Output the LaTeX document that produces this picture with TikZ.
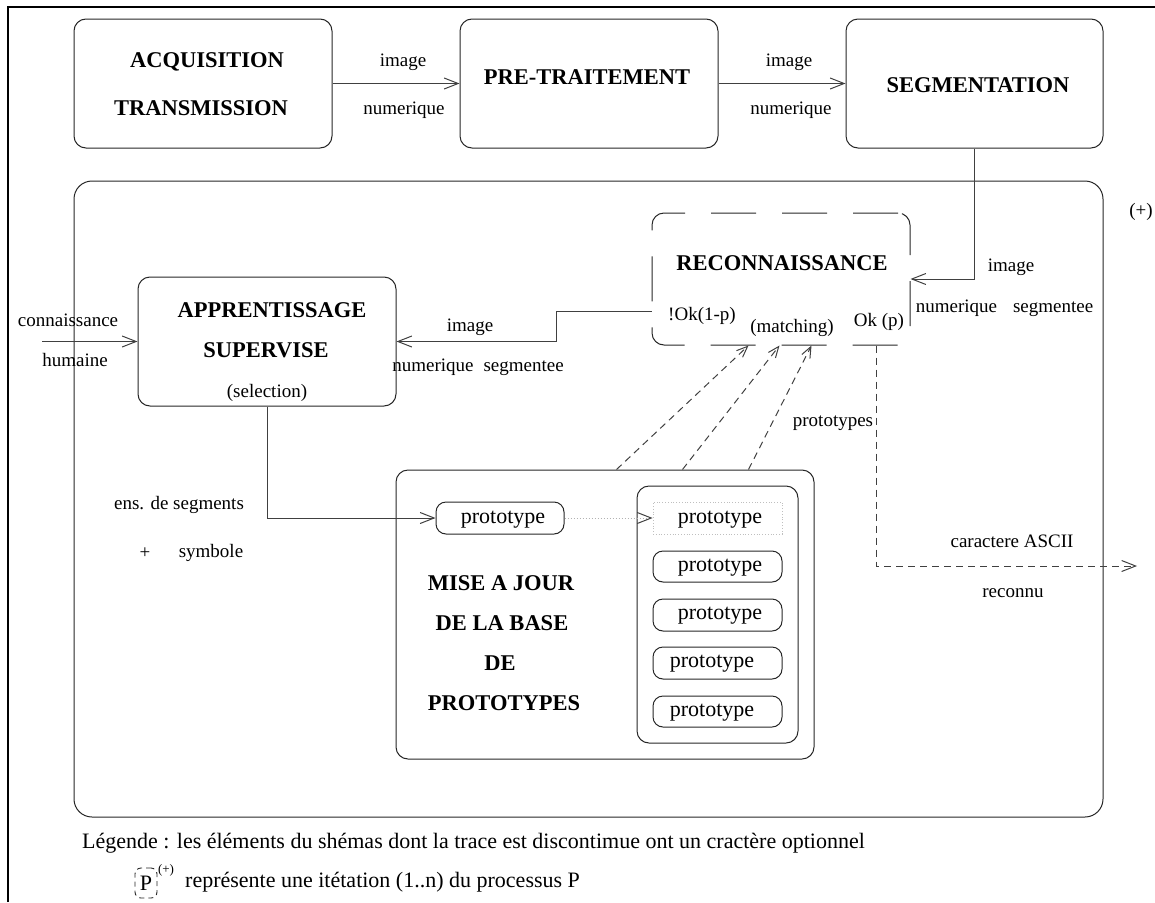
\documentclass[tikz,border=0pt]{standalone}
\usepackage{fontspec}
\setmainfont{Liberation Serif}
\usetikzlibrary{arrows.meta,calc}
\begin{document}
\begin{tikzpicture}[x=1pt,y=-1pt,
  box/.style={draw=black!85, line width=1pt, rounded corners=12pt, inner sep=0pt},
  lab/.style={inner sep=0pt, font=\fontsize{19}{23}\selectfont},
  ttl/.style={inner sep=0pt, font=\fontsize{22.5}{27}\selectfont\bfseries},
  protxt/.style={inner sep=0pt, font=\fontsize{22}{26}\selectfont},
  conn/.style={draw=black!75, line width=1pt},
  tip/.style={-{Straight Barb[length=14pt,width=11pt]}},
  opt/.style={dash pattern=on 7pt off 5pt},
  longdash/.style={dash pattern=on 45pt off 26pt}]
\useasboundingbox (0,0) rectangle (1155,902);

% page frame (top and left edges)
\draw[line width=2.5pt] (8,902) -- (8,7) -- (1155,7);

% acquisition chain
\node[box, minimum width=258pt, minimum height=129pt] (acq) at (203,83.5) {};
\node[box, minimum width=258pt, minimum height=129pt] (pre) at (589,83.5) {};
\node[box, minimum width=257pt, minimum height=129pt] (seg) at (974.5,83.5) {};
\node[ttl] (tacq1) at (207,62) {ACQUISITION};
\node[ttl] (tacq2) at (201,108) {TRANSMISSION};
\node[ttl] (tpre) at (587,77) {PRE-TRAITEMENT};
\node[ttl] (tseg) at (978,85) {SEGMENTATION};

\draw[conn, tip] (acq.east) -- (pre.west);
\draw[conn, tip] (pre.east) -- (seg.west);
\node[lab] (l1a) at (403,62) {image};
\node[lab] (l1b) at (404,110) {numerique};
\node[lab] (l2a) at (789,62) {image};
\node[lab] (l2b) at (791,110) {numerique};

% iterated recognition loop
\node[box, rounded corners=18pt, minimum width=1029pt, minimum height=636pt] (loop) at (588.5,499) {};
\node[lab] (plus) at (1141,212) {(+)};

% recognition (optional)
\node[box, longdash, minimum width=258pt, minimum height=132pt] (recon) at (781,279) {};
\node[ttl] (trec) at (782,263) {RECONNAISSANCE};
\node[lab] (nok) at (702,316) {!Ok(1-p)};
\node[lab] (match) at (792,328) {(matching)};
\node[lab] (okp) at (879,322) {Ok (p)};

\draw[conn, tip] (seg.south) |- (recon.east);
\node[lab] (l3a) at (1011,267) {image};
\node[lab] (l3b) at (1004.5,308) {numerique\hspace{16pt}segmentee};

% supervised learning
\node[box, minimum width=258pt, minimum height=129pt] (app) at (267,341.5) {};
\node[ttl] (tapp1) at (272,310) {APPRENTISSAGE};
\node[ttl] (tapp2) at (266,350) {SUPERVISE};
\node[lab] (tsel) at (267,393) {(selection)};

\coordinate (human) at (42,341.5);
\draw[conn, tip] (human) -- (app.west);
\node[lab] (l4a) at (68,320) {connaissance};
\node[lab] (l4b) at (75,360) {humaine};

\draw[conn, tip] ($(recon.west)+(0,32)$) -- ++(-95,0) |- (app.east);
\node[lab] (l5a) at (470,327) {image};
\node[lab] (l5b) at (478,367) {numerique\hspace{10pt}segmentee};

% prototype base update
\node[box, minimum width=418pt, minimum height=289pt] (mise) at (605,614.5) {};
\node[ttl] (tm1) at (501,583) {MISE A JOUR};
\node[ttl] (tm2) at (502,623) {DE LA BASE};
\node[ttl] (tm3) at (500,663) {DE};
\node[ttl] (tm4) at (504,703) {PROTOTYPES};

\node[box, minimum width=161pt, minimum height=257pt] (base) at (717.5,614.5) {};
\node[box, rounded corners=10pt, minimum width=128pt, minimum height=32pt] (p0) at (500,518) {};
\node[protxt] at (503,520) {prototype};
\node[draw=black!25, dotted, line width=0.8pt, minimum width=129pt, minimum height=32pt, inner sep=0pt] (pt) at (717.5,518) {};
\node[protxt] at (720,520) {prototype};
\node[box, rounded corners=10pt, minimum width=129pt, minimum height=31pt] (p1) at (717.5,566.5) {};
\node[protxt] at (720,568) {prototype};
\node[box, rounded corners=10pt, minimum width=129pt, minimum height=32pt] (p2) at (717.5,615) {};
\node[protxt] at (720,616) {prototype};
\node[box, rounded corners=10pt, minimum width=129pt, minimum height=32pt] (p3) at (717.5,663) {};
\node[protxt] at (712,664) {prototype};
\node[box, rounded corners=10pt, minimum width=129pt, minimum height=31pt] (p4) at (717.5,711.5) {};
\node[protxt] at (712,713) {prototype};

\draw[conn, tip] (app.south) |- (p0.west);
\node[lab] (l6a) at (179,505) {ens. de segments};
\node[lab] (l6b) at (145,553) {+};
\node[lab] (l6c) at (211,553) {symbole};

\draw[draw=black!30, dotted, line width=1pt, -{Straight Barb[length=14pt,width=11pt,color=black!75,line width=1pt]}] (p0.east) -- (pt.west);

% prototypes fed to matching
\draw[conn, opt, -{Straight Barb[length=11pt,width=9pt]}] ($(mise.north west)+(221,0)$) -- ($(recon.south west)+(97,0)$);
\draw[conn, opt, -{Straight Barb[length=11pt,width=9pt]}] ($(mise.north west)+(287,0)$) -- ($(recon.south west)+(128,0)$);
\draw[conn, opt, -{Straight Barb[length=11pt,width=9pt]}] ($(mise.north west)+(353,0)$) -- ($(recon.south west)+(160,0)$);
\node[lab] (l7) at (833,423) {prototypes};

% recognised character output
\coordinate (out) at (1137,566);
\draw[conn, opt, tip] ($(recon.south west)+(225,0)$) |- (out);
\node[lab] (l8a) at (1012,541) {caractere ASCII};
\node[lab] (l8b) at (1013,593) {reconnu};

% legend
\node[protxt, anchor=west] (leg1) at (82,843) {Légende : les éléments du shémas dont la trace est discontimue ont un cractère optionnel};
\node[draw=black!85, line width=0.9pt, dash pattern=on 5pt off 4pt, rounded corners=6pt, minimum width=22pt, minimum height=30pt, inner sep=0pt, font=\fontsize{22}{26}\selectfont] (pbox) at (146,883) {P};
\node[inner sep=0pt, font=\fontsize{13}{15}\selectfont] (pplus) at (166,870) {(+)};
\node[protxt, anchor=west] (leg2) at (185,882) {représente une itétation (1..n) du processus P};
\end{tikzpicture}
\end{document}
